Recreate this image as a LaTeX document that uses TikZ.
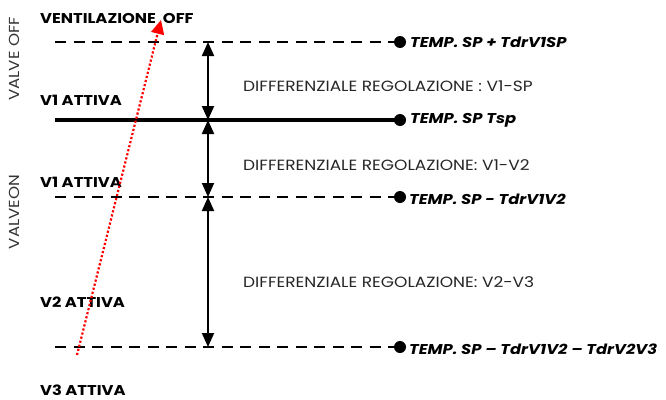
\documentclass[tikz,border=0pt]{standalone}
\usepackage{fontspec}
\setmainfont{Poppins}[FakeStretch=1.15]
\usetikzlibrary{arrows.meta}
\begin{document}
\begin{tikzpicture}[x=1pt,y=-1pt,
  lvl/.style={line width=2.5pt,dash pattern=on 11pt off 7.5pt},
  solidlvl/.style={line width=3.5pt},
  dimarrow/.style={line width=2pt,{Triangle[width=12pt,length=14pt]}-{Triangle[width=12pt,length=14pt]}},
  dotm/.style={circle,fill=black,inner sep=0pt,minimum size=12pt},
  splabel/.style={anchor=west,font=\fontsize{14.2}{16}\selectfont\bfseries\itshape,inner sep=0pt},
  difflabel/.style={anchor=west,font=\fontsize{14.8}{16}\selectfont,inner sep=0pt,text=black!85},
  statelabel/.style={anchor=west,font=\fontsize{14.2}{16}\selectfont\bfseries,inner sep=0pt},
  sidelabel/.style={rotate=90,font=\fontsize{14.5}{16}\selectfont,inner sep=0pt,text=black!80}]
\useasboundingbox (0,0) rectangle (666,399);
% levels
\coordinate (l1s) at (55,42);  \node[dotm] (d1) at (400,42) {};
\coordinate (l2s) at (55,120); \node[dotm] (d2) at (400,120) {};
\coordinate (l3s) at (55,197); \node[dotm] (d3) at (400,197) {};
\coordinate (l4s) at (55,347); \node[dotm] (d4) at (400,347) {};
\draw[lvl] (l1s) -- (d1.center);
\draw[solidlvl] (l2s) -- (d2.center);
\draw[lvl] (l3s) -- (d3.center);
\draw[lvl] (l4s) -- (d4.center);
% dimension arrows
\coordinate (a1) at (208,42);
\coordinate (a2) at (208,120);
\coordinate (a3) at (208,197);
\coordinate (a4) at (208,347);
\draw[dimarrow] (a1) -- (a2);
\draw[dimarrow] (a2) -- (a3);
\draw[dimarrow] (a3) -- (a4);
% setpoint labels
\node[splabel] (s1) at (410,42) {TEMP. SP + TdrV1SP};
\node[splabel] (s2) at (410,120) {TEMP. SP Tsp};
\node[splabel] (s3) at (409,199) {TEMP. SP - TdrV1V2};
\node[splabel] (s4) at (409,349) {TEMP. SP – TdrV1V2 – TdrV2V3};
% differential labels
\node[difflabel] (t1) at (243,86) {DIFFERENZIALE REGOLAZIONE : V1-SP};
\node[difflabel] (t2) at (243,165) {DIFFERENZIALE REGOLAZIONE: V1-V2};
\node[difflabel] (t3) at (243,282) {DIFFERENZIALE REGOLAZIONE: V2-V3};
% state labels
\node[statelabel] (v0) at (40,18) {VENTILAZIONE\ \ OFF};
\node[statelabel] (v1) at (40,100) {V1 ATTIVA};
\node[statelabel] (v2) at (40,182) {V1 ATTIVA};
\node[statelabel] (v3) at (40,302) {V2 ATTIVA};
\node[statelabel] (v4) at (40,390) {V3 ATTIVA};
% side labels
\node[sidelabel] (sv1) at (14,59) {VALVE OFF};
\node[sidelabel] (sv2) at (14,212) {VALVEON};
% red dotted arrow
\coordinate (r0) at (77,355);
\coordinate (r1) at (161,20);
\draw[red,line width=2.2pt,dotted,-{Triangle[width=13pt,length=14pt]}] (r0) -- (r1);
\end{tikzpicture}
\end{document}
